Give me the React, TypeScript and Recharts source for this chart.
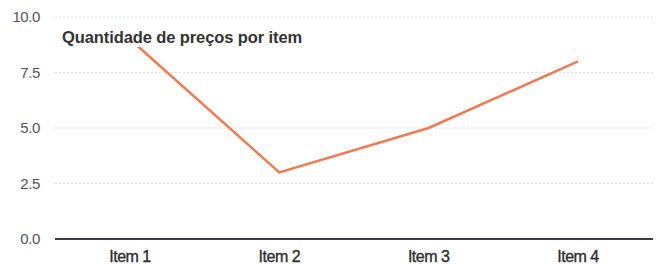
import { LineChart, Line, XAxis, YAxis, CartesianGrid } from "recharts";

const items = ["Item 1", "Item 2", "Item 3", "Item 4"];
const counts = [9, 3, 5, 8];
const yTicks = [0, 2.5, 5, 7.5, 10];
const title = "Quantidade de preços por item";

const data = items.map((name, i) => ({ name, value: counts[i] }));

const font = "'Liberation Sans', Arial, sans-serif";

export default function App() {
  return (
    <div style={{ position: "absolute", left: 0, top: 0, width: 657, height: 264, background: "#fff" }}>
      <LineChart
        width={657}
        height={264}
        data={data}
        margin={{ top: 17, right: 4, left: 0, bottom: 0 }}
      >
        <CartesianGrid
          vertical={false}
          stroke="#dedede"
          strokeDasharray="2 2"
        />
        <XAxis
          dataKey="name"
          height={25}
          padding={{ left: 75, right: 75 }}
          axisLine={{ stroke: "#3b3b4a", strokeWidth: 2 }}
          tickLine={false}
          tickMargin={6}
          tick={{
            fill: "#2e2e2e",
            stroke: "#2e2e2e",
            strokeWidth: 0.35,
            fontSize: 16,
            fontFamily: font,
            letterSpacing: -0.5,
          }}
        />
        <YAxis
          width={55}
          domain={[0, 10]}
          ticks={yTicks}
          axisLine={false}
          tickLine={false}
          tickMargin={9}
          tickFormatter={(v: number) => v.toFixed(1)}
          tick={{ fill: "#555", fontSize: 15, fontFamily: font, letterSpacing: -0.4 }}
        />
        <Line
          type="linear"
          dataKey="value"
          stroke="#f07a52"
          strokeWidth={2.5}
          dot={false}
          isAnimationActive={false}
        />
      </LineChart>
      <div
        style={{
          position: "absolute",
          left: 62,
          top: 28,
          fontFamily: font,
          fontWeight: "bold",
          fontSize: 16.5,
          color: "#333",
          letterSpacing: -0.1,
          background: "rgba(255,255,255,0.9)",
          whiteSpace: "nowrap",
          lineHeight: "19px",
        }}
      >
        {title}
      </div>
    </div>
  );
}
